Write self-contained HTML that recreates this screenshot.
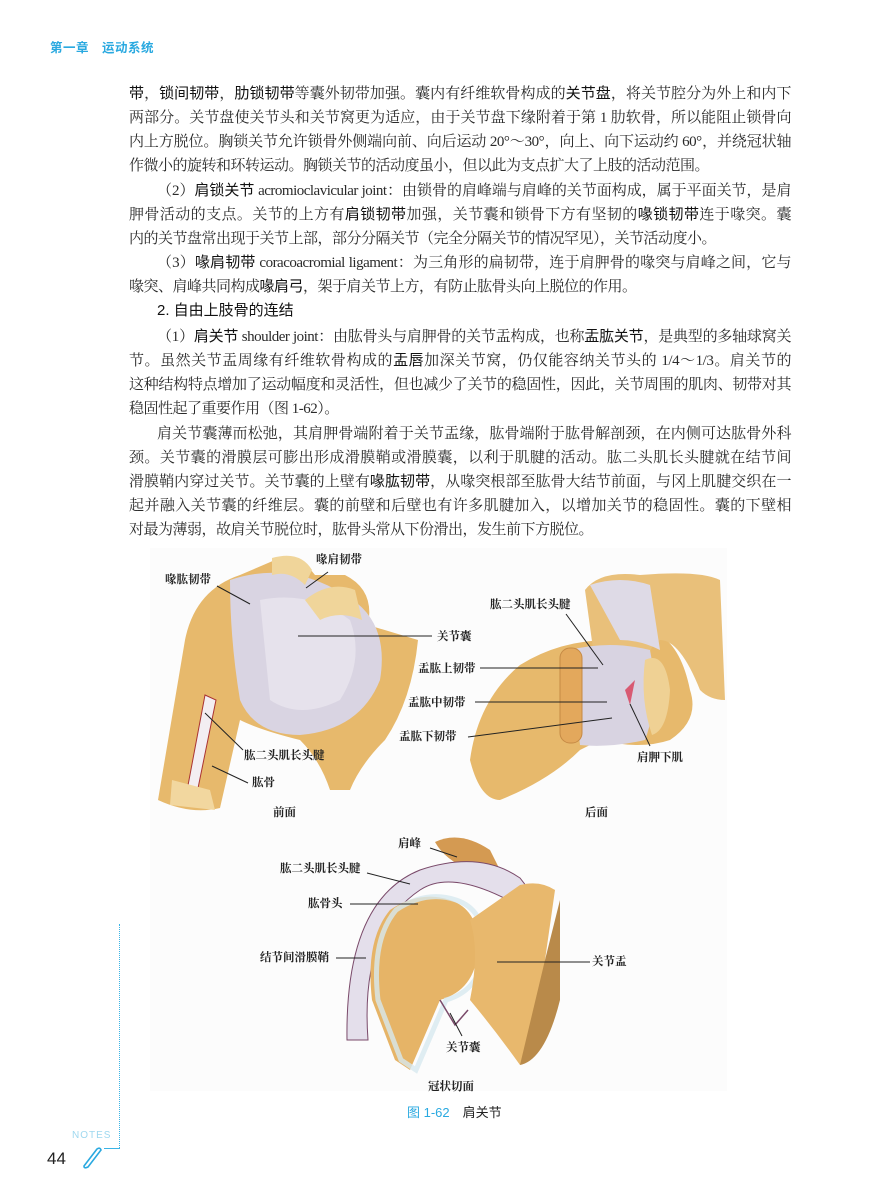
<!DOCTYPE html>
<html><head><meta charset="utf-8">
<style>
body{margin:0;background:#fff;}
#p{position:relative;width:870px;height:1200px;overflow:hidden;background:#fff;font-family:"Liberation Serif","Noto Serif CJK SC",serif;color:#2a2a2a;}
.l{position:absolute;left:129px;width:662px;font-size:15px;line-height:22px;height:22px;white-space:nowrap;text-align:justify;text-align-last:justify;letter-spacing:-0.5px;}
.l.e{text-align-last:left;}
.i{left:157px;width:634px;}
b{font-family:"Liberation Sans","Noto Sans CJK SC",sans-serif;font-weight:normal;color:#111;}
.s{font-family:"Liberation Sans","Noto Sans CJK SC",sans-serif;}
.lab{position:absolute;font-size:11.5px;font-weight:bold;font-family:"Liberation Serif","Noto Serif CJK SC",serif;color:#222;white-space:nowrap;line-height:14px;}
</style></head><body><div id="p">
<div class="s" style="position:absolute;left:50px;top:37px;font-size:12.5px;color:#2aa9e0;font-weight:bold;letter-spacing:0.5px">第一章　运动系统</div>

<div class="l" style="top:83px"><b>带</b>，<b>锁间韧带</b>，<b>肋锁韧带</b>等囊外韧带加强。囊内有纤维软骨构成的<b>关节盘</b>，将关节腔分为外上和内下</div>
<div class="l" style="top:107px">两部分。关节盘使关节头和关节窝更为适应，由于关节盘下缘附着于第 1 肋软骨，所以能阻止锁骨向</div>
<div class="l" style="top:131px">内上方脱位。胸锁关节允许锁骨外侧端向前、向后运动 20°～30°，向上、向下运动约 60°，并绕冠状轴</div>
<div class="l e" style="top:155px">作微小的旋转和环转运动。胸锁关节的活动度虽小，但以此为支点扩大了上肢的活动范围。</div>
<div class="l i" style="top:180px">（2）<b>肩锁关节</b> acromioclavicular joint：由锁骨的肩峰端与肩峰的关节面构成，属于平面关节，是肩</div>
<div class="l" style="top:204px">胛骨活动的支点。关节的上方有<b>肩锁韧带</b>加强，关节囊和锁骨下方有坚韧的<b>喙锁韧带</b>连于喙突。囊</div>
<div class="l e" style="top:228px">内的关节盘常出现于关节上部，部分分隔关节（完全分隔关节的情况罕见），关节活动度小。</div>
<div class="l i" style="top:252px">（3）<b>喙肩韧带</b> coracoacromial ligament：为三角形的扁韧带，连于肩胛骨的喙突与肩峰之间，它与</div>
<div class="l e" style="top:276px">喙突、肩峰共同构成<b>喙肩弓</b>，架于肩关节上方，有防止肱骨头向上脱位的作用。</div>
<div class="l i e s" style="top:300px;color:#111;letter-spacing:0">2. 自由上肢骨的连结</div>
<div class="l i" style="top:326px">（1）<b>肩关节</b> shoulder joint：由肱骨头与肩胛骨的关节盂构成，也称<b>盂肱关节</b>，是典型的多轴球窝关</div>
<div class="l" style="top:350px">节。虽然关节盂周缘有纤维软骨构成的<b>盂唇</b>加深关节窝，仍仅能容纳关节头的 1/4～1/3。肩关节的</div>
<div class="l" style="top:374px">这种结构特点增加了运动幅度和灵活性，但也减少了关节的稳固性，因此，关节周围的肌肉、韧带对其</div>
<div class="l e" style="top:398px">稳固性起了重要作用（图 1-62）。</div>
<div class="l i" style="top:423px">肩关节囊薄而松弛，其肩胛骨端附着于关节盂缘，肱骨端附于肱骨解剖颈，在内侧可达肱骨外科</div>
<div class="l" style="top:447px">颈。关节囊的滑膜层可膨出形成滑膜鞘或滑膜囊，以利于肌腱的活动。肱二头肌长头腱就在结节间</div>
<div class="l" style="top:471px">滑膜鞘内穿过关节。关节囊的上壁有<b>喙肱韧带</b>，从喙突根部至肱骨大结节前面，与冈上肌腱交织在一</div>
<div class="l" style="top:495px">起并融入关节囊的纤维层。囊的前壁和后壁也有许多肌腱加入，以增加关节的稳固性。囊的下壁相</div>
<div class="l e" style="top:519px">对最为薄弱，故肩关节脱位时，肱骨头常从下份滑出，发生前下方脱位。</div>

<svg style="position:absolute;left:0;top:0" width="870" height="1200">
<rect x="150" y="548" width="577" height="543" fill="#fcfcfc"/>
<!-- front view -->
<path d="M158,800 L185,640 Q195,590 240,575 L275,560 Q300,555 315,575 L345,575 Q375,590 368,625 L418,640 Q412,700 385,740 Q360,765 350,790 L330,790 Q320,760 300,740 Q260,730 240,720 L220,808 Q190,815 158,800 Z" fill="#e7b96c"/>
<path d="M230,580 Q290,560 345,595 Q390,620 380,680 Q360,730 300,735 Q255,735 240,700 Q230,640 230,580 Z" fill="#d9d4e2"/>
<path d="M260,600 Q310,590 350,620 Q365,660 340,700 Q300,720 270,700 Z" fill="#e6e2ec"/>
<path d="M272,558 Q300,550 312,570 L305,585 Q290,570 272,575 Z" fill="#f0d59a"/>
<path d="M305,600 Q330,580 355,590 L362,620 Q340,610 320,620 Z" fill="#f0d59a"/>
<path d="M205,695 L216,700 L196,798 L186,796 Z" fill="#f3eef2" stroke="#a33" stroke-width="1"/>
<path d="M172,780 L170,805 L215,810 L210,790 Z" fill="#f2d79f"/>
<!-- back view -->
<path d="M470,760 Q478,700 520,665 Q560,640 610,640 L650,630 Q680,640 690,690 Q700,720 670,740 Q640,750 600,740 L580,750 Q550,780 500,800 Q480,800 470,760 Z" fill="#e7b96c"/>
<path d="M585,590 Q600,570 640,575 Q700,570 720,580 L725,700 Q710,700 700,690 Q680,640 660,640 Q640,650 650,700 Q640,700 600,700 Z" fill="#e9c07a"/>
<path d="M590,585 Q620,575 650,585 L660,650 Q640,640 620,640 Z" fill="#dedae6"/>
<path d="M570,650 Q610,640 650,650 Q660,700 645,740 Q610,748 580,745 Z" fill="#d8d3e1"/>
<rect x="560" y="648" width="22" height="95" rx="10" fill="#e3a85c" stroke="#c68a45"/>
<path d="M645,660 Q665,650 670,690 Q668,730 652,735 Q640,700 645,660 Z" fill="#efd194"/>
<path d="M625,690 L635,680 L630,705 Z" fill="#d85a72"/>
<!-- coronal -->
<path d="M435,842 Q460,830 490,850 L505,880 L470,870 Q445,860 435,842 Z" fill="#d49a52"/>
<path d="M347,1040 Q345,900 420,870 Q480,850 520,878 L537,900 Q530,910 508,900 Q450,870 420,890 Q360,930 368,1040 Z" fill="#e4dfeb" stroke="#7a4a6a" stroke-width="1"/>
<path d="M395,1060 L372,1000 Q365,940 390,910 Q420,890 450,900 Q480,910 478,950 Q475,990 440,1000 L410,1070 Z" fill="#e6b467"/>
<path d="M395,1060 L372,1000 Q365,940 390,910 Q420,890 450,900 Q480,910 478,950 Q475,990 440,1000 L410,1070 Z" fill="none" stroke="#d7e8ef" stroke-width="5" transform="translate(6,0)" opacity=".8"/>
<path d="M470,1000 Q480,950 470,920 L520,885 Q540,880 555,890 L545,960 Q555,1000 545,1030 Q530,1060 520,1065 Q495,1030 470,1000 Z" fill="#e8b86d"/>
<path d="M545,960 L560,900 L560,1000 Q545,1060 520,1065 Z" fill="#b98a4a"/>
<path d="M440,1000 L455,1025 L468,1010" fill="none" stroke="#7a4a6a" stroke-width="1.5"/>
<g stroke="#222" stroke-width="1" fill="none">
<line x1="217" y1="586" x2="250" y2="604"/>
<line x1="328" y1="572" x2="306" y2="588"/>
<line x1="298" y1="636" x2="432" y2="636"/>
<line x1="243" y1="750" x2="205" y2="713"/>
<line x1="248" y1="783" x2="212" y2="766"/>
<line x1="566" y1="614" x2="603" y2="665"/>
<line x1="480" y1="668" x2="598" y2="668"/>
<line x1="475" y1="702" x2="607" y2="702"/>
<line x1="468" y1="737" x2="612" y2="718"/>
<line x1="650" y1="746" x2="630" y2="704"/>
<line x1="430" y1="848" x2="457" y2="857"/>
<line x1="367" y1="873" x2="410" y2="884"/>
<line x1="350" y1="904" x2="418" y2="904"/>
<line x1="336" y1="958" x2="366" y2="958"/>
<line x1="497" y1="962" x2="590" y2="962"/>
<line x1="462" y1="1036" x2="450" y2="1013"/>
</g>
</svg>
<div class="lab" style="left:165px;top:573px">喙肱韧带</div>
<div class="lab" style="left:316px;top:553px">喙肩韧带</div>
<div class="lab" style="left:437px;top:630px">关节囊</div>
<div class="lab" style="left:244px;top:749px">肱二头肌长头腱</div>
<div class="lab" style="left:252px;top:776px">肱骨</div>
<div class="lab" style="left:273px;top:806px">前面</div>
<div class="lab" style="left:490px;top:598px">肱二头肌长头腱</div>
<div class="lab" style="left:418px;top:662px">盂肱上韧带</div>
<div class="lab" style="left:408px;top:696px">盂肱中韧带</div>
<div class="lab" style="left:399px;top:730px">盂肱下韧带</div>
<div class="lab" style="left:637px;top:751px">肩胛下肌</div>
<div class="lab" style="left:585px;top:806px">后面</div>
<div class="lab" style="left:398px;top:837px">肩峰</div>
<div class="lab" style="left:280px;top:862px">肱二头肌长头腱</div>
<div class="lab" style="left:308px;top:897px">肱骨头</div>
<div class="lab" style="left:260px;top:951px">结节间滑膜鞘</div>
<div class="lab" style="left:592px;top:955px">关节盂</div>
<div class="lab" style="left:446px;top:1041px">关节囊</div>
<div class="lab" style="left:428px;top:1080px">冠状切面</div>
<div class="s" style="position:absolute;left:407px;top:1102px;font-size:13px;white-space:nowrap"><span style="color:#2aa9e0">图 1-62</span>　<span style="color:#222">肩关节</span></div>

<div style="position:absolute;left:119px;top:924px;height:224px;border-left:1px dotted #3ab4e6"></div>
<div style="position:absolute;left:104px;top:1148px;width:16px;border-top:1px solid #3ab4e6"></div>
<div class="s" style="position:absolute;left:72px;top:1130px;font-size:10px;color:#9fd8ef;letter-spacing:1px">NOTES</div>
<div class="s" style="position:absolute;left:47px;top:1149px;font-size:17px;color:#222">44</div>
<svg style="position:absolute;left:80px;top:1145px" width="24" height="24"><path d="M4,21 L17,4 Q20,2 21,5 L8,22 Q4,24 4,21 Z" fill="none" stroke="#2aa9e0" stroke-width="1.6"/></svg>
</div></body></html>
